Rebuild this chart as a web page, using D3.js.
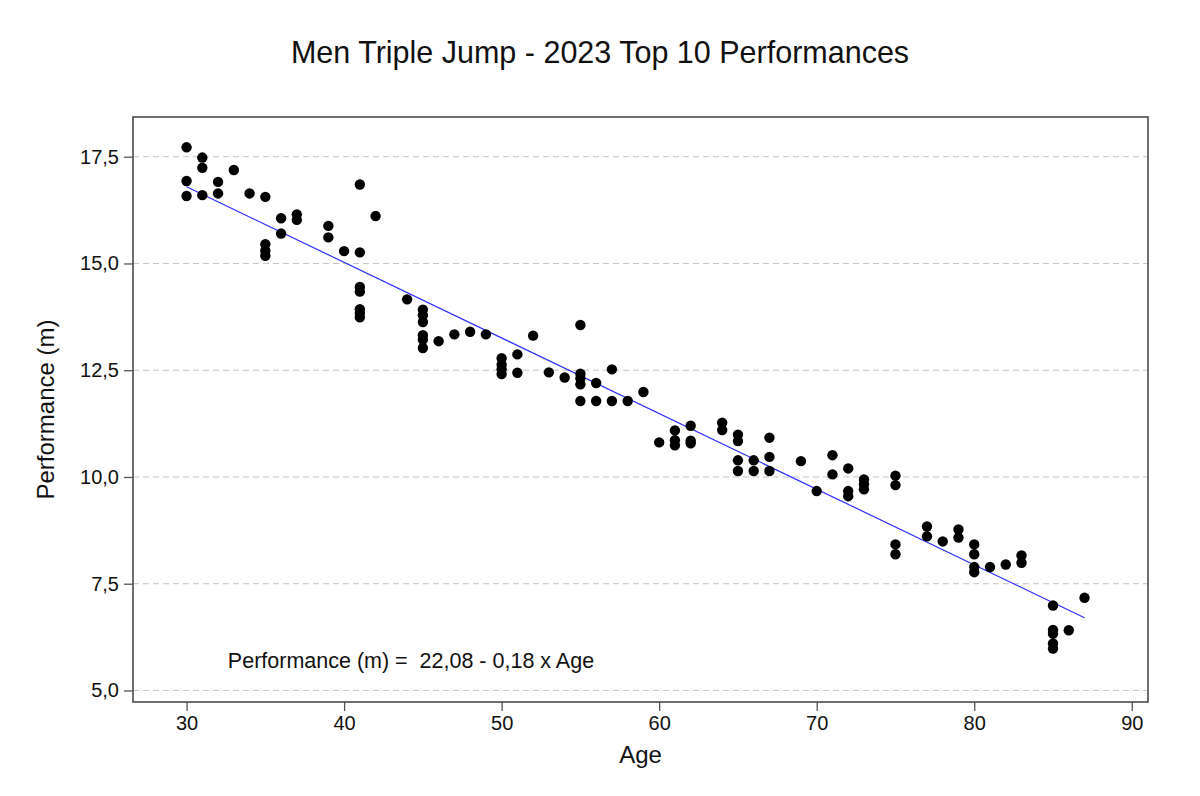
<!DOCTYPE html>
<html>
<head>
<meta charset="utf-8">
<script src="https://cdn.jsdelivr.net/npm/d3@7"></script>
<style>
    body { margin: 0; background: #fff; }
    text { font-family: "Liberation Sans", Arial, sans-serif; fill: #111; }
</style>
</head>
<body>
<svg id="chart"></svg>
<script>
// ages and best marks, one entry per performance (parallel arrays)
const ages = [
    30, 30, 30, 31, 31, 31, 32, 32, 33, 34,
    35, 35, 35, 35, 36, 36, 37, 37, 39, 39,
    40, 41, 41, 41, 41, 41, 41, 41, 42, 44,
    45, 45, 45, 45, 45, 45, 46, 47, 48, 49,
    50, 50, 50, 50, 51, 51, 52, 53, 54,
    55, 55, 55, 55, 55, 56, 56, 57, 57, 58, 59,
    60, 61, 61, 61, 62, 62, 62, 64, 64,
    65, 65, 65, 65, 66, 66, 67, 67, 67, 69,
    70, 71, 71, 72, 72, 72, 73, 73, 73,
    75, 75, 75, 75, 77, 77, 78, 79, 79,
    80, 80, 80, 80, 81, 82, 83, 83,
    85, 85, 85, 85, 85, 86, 87
];
const performances = [
    17.72, 16.93, 16.58, 17.48, 17.24, 16.60, 16.91, 16.64, 17.19, 16.64,
    16.56, 15.45, 15.30, 15.18, 16.06, 15.70, 16.15, 16.02, 15.88, 15.61,
    15.29, 16.85, 15.26, 14.45, 14.34, 13.93, 13.84, 13.74, 16.11, 14.16,
    13.92, 13.79, 13.63, 13.32, 13.22, 13.02, 13.18, 13.34, 13.40, 13.34,
    12.78, 12.63, 12.52, 12.41, 12.87, 12.44, 13.31, 12.45, 12.33,
    13.56, 12.42, 12.31, 12.17, 11.78, 12.20, 11.78, 12.52, 11.78, 11.78, 11.99,
    10.81, 11.09, 10.86, 10.74, 11.20, 10.85, 10.79, 11.27, 11.10,
    10.99, 10.84, 10.39, 10.14, 10.39, 10.14, 10.92, 10.47, 10.14, 10.37,
    9.67, 10.51, 10.06, 10.20, 9.67, 9.55, 9.94, 9.83, 9.71,
    10.03, 9.81, 8.42, 8.19, 8.84, 8.61, 8.49, 8.77, 8.58,
    8.42, 8.19, 7.89, 7.77, 7.89, 7.95, 8.16, 7.99,
    6.99, 6.42, 6.33, 6.10, 5.98, 6.41, 7.17
];

// fitted line as drawn in the original (unrounded coefficients)
const fitIntercept = 22.11;
const fitSlope = -0.1771;

const xTicks = [30, 40, 50, 60, 70, 80, 90];
const yTicks = [5, 7.5, 10, 12.5, 15, 17.5];
const xDomain = [26.6, 91.03];
const yDomain = [4.73, 18.43];

const chartTitle = "Men Triple Jump - 2023 Top 10 Performances";
const xLabel = "Age";
const yLabel = "Performance (m)";
const fitLabel = "Performance (m) =  22,08 - 0,18 x Age";
// where the equation sits, in data units (age, metres)
const fitLabelAnchor = [32.62, 5.52];

class ScatterPlot {
    constructor(_config, _ages, _performances) {
        this.config = {
            parentElement: _config.parentElement,
            containerWidth: _config.containerWidth || 1200,
            containerHeight: _config.containerHeight || 796,
            margin: _config.margin || {top: 117, right: 52, bottom: 94, left: 133}
        };
        this.data = _ages.map((a, i) => ({age: a, perf: _performances[i]}));
        this.initVis();
    }

    initVis() {
        let vis = this;
        vis.width = vis.config.containerWidth - vis.config.margin.left - vis.config.margin.right;
        vis.height = vis.config.containerHeight - vis.config.margin.top - vis.config.margin.bottom;

        vis.xScale = d3.scaleLinear().domain(xDomain).range([0, vis.width]);
        vis.yScale = d3.scaleLinear().domain(yDomain).range([vis.height, 0]);

        // comma as decimal separator, like the original
        const locale = d3.formatLocale({decimal: ",", thousands: ".", grouping: [3], currency: ["", ""]});
        vis.yFormat = locale.format(".1f");

        vis.svg = d3.select(vis.config.parentElement)
            .attr("width", vis.config.containerWidth)
            .attr("height", vis.config.containerHeight);

        vis.chart = vis.svg.append("g")
            .attr("transform", `translate(${vis.config.margin.left},${vis.config.margin.top})`);

        vis.renderVis();
    }

    // fit line spans the observed age range
    fitLine() {
        let vis = this;
        const ext = d3.extent(vis.data, d => d.age);
        return ext.map(a => ({age: a, perf: fitIntercept + fitSlope * a}));
    }

    renderVis() {
        let vis = this;

        // dashed horizontal grid
        vis.chart.append("g")
            .selectAll("line")
            .data(yTicks)
            .join("line")
            .attr("x1", 0)
            .attr("x2", vis.width)
            .attr("y1", d => vis.yScale(d))
            .attr("y2", d => vis.yScale(d))
            .attr("stroke", "#c4c4c4")
            .attr("stroke-width", 1)
            .attr("stroke-dasharray", "6,4");

        // axes
        const xAxis = d3.axisBottom(vis.xScale)
            .tickValues(xTicks)
            .tickSize(9)
            .tickSizeOuter(0)
            .tickPadding(5);
        const yAxis = d3.axisLeft(vis.yScale)
            .tickValues(yTicks)
            .tickFormat(vis.yFormat)
            .tickSize(9)
            .tickSizeOuter(0)
            .tickPadding(5);

        const xG = vis.chart.append("g")
            .attr("transform", `translate(0,${vis.height})`)
            .call(xAxis);
        const yG = vis.chart.append("g").call(yAxis);
        [xG, yG].forEach(g => {
            g.select(".domain").remove();
            g.selectAll(".tick line").attr("stroke", "#555").attr("stroke-width", 1.3);
            g.selectAll(".tick text")
                .attr("font-family", "Liberation Sans, Arial, sans-serif")
                .attr("font-size", 20)
                .attr("fill", "#111");
        });

        // regression line
        const line = d3.line()
            .x(d => vis.xScale(d.age))
            .y(d => vis.yScale(d.perf));
        vis.chart.append("path")
            .datum(vis.fitLine())
            .attr("d", line)
            .attr("fill", "none")
            .attr("stroke", "#3030ff")
            .attr("stroke-width", 1.2);

        // points
        vis.chart.append("g")
            .selectAll("circle")
            .data(vis.data)
            .join("circle")
            .attr("cx", d => vis.xScale(d.age))
            .attr("cy", d => vis.yScale(d.perf))
            .attr("r", 5.2)
            .attr("fill", "#000");

        // frame
        vis.chart.append("rect")
            .attr("width", vis.width)
            .attr("height", vis.height)
            .attr("fill", "none")
            .attr("stroke", "#4a4a4a")
            .attr("stroke-width", 1.6);

        // equation
        vis.chart.append("text")
            .attr("x", vis.xScale(fitLabelAnchor[0]))
            .attr("y", vis.yScale(fitLabelAnchor[1]))
            .attr("font-size", 21.5)
            .style("white-space", "pre")
            .text(fitLabel);

        // titles
        vis.svg.append("text")
            .attr("x", vis.config.containerWidth / 2)
            .attr("y", 63)
            .attr("text-anchor", "middle")
            .attr("font-size", 30.5)
            .text(chartTitle);

        vis.chart.append("text")
            .attr("x", vis.width / 2)
            .attr("y", vis.height + 61)
            .attr("text-anchor", "middle")
            .attr("font-size", 24)
            .text(xLabel);

        vis.chart.append("text")
            .attr("transform", `translate(${-79},${vis.height / 2}) rotate(-90)`)
            .attr("text-anchor", "middle")
            .attr("font-size", 24)
            .text(yLabel);
    }
}

new ScatterPlot({parentElement: "#chart"}, ages, performances);
</script>
</body>
</html>
